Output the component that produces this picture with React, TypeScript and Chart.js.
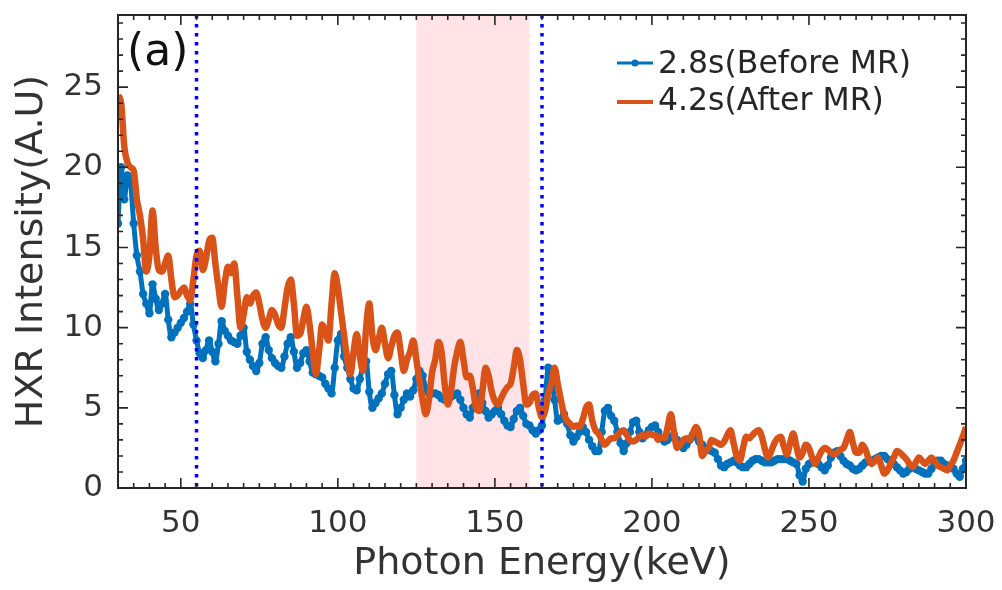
import React, { useEffect, useRef } from "react";
import { Chart, registerables } from "chart.js";

Chart.register(...registerables);

// ---------------- DATA ----------------
const energies = [
  30, 31, 32, 33, 34, 35, 36, 37, 38, 39,
  40, 41, 42, 43, 44, 45, 46, 47, 48, 49,
  50, 51, 52, 53, 54, 55, 56, 57, 58, 59,
  60, 61, 62, 63, 64, 65, 66, 67, 68, 69,
  70, 71, 72, 73, 74, 75, 76, 77, 78, 79,
  80, 81, 82, 83, 84, 85, 86, 87, 88, 89,
  90, 91, 92, 93, 94, 95, 96, 97, 98, 99,
  100, 101, 102, 103, 104, 105, 106, 107, 108, 109,
  110, 111, 112, 113, 114, 115, 116, 117, 118, 119,
  120, 121, 122, 123, 124, 125, 126, 127, 128, 129,
  130, 131, 132, 133, 134, 135, 136, 137, 138, 139,
  140, 141, 142, 143, 144, 145, 146, 147, 148, 149,
  150, 151, 152, 153, 154, 155, 156, 157, 158, 159,
  160, 161, 162, 163, 164, 165, 166, 167, 168, 169,
  170, 171, 172, 173, 174, 175, 176, 177, 178, 179,
  180, 181, 182, 183, 184, 185, 186, 187, 188, 189,
  190, 191, 192, 193, 194, 195, 196, 197, 198, 199,
  200, 201, 202, 203, 204, 205, 206, 207, 208, 209,
  210, 211, 212, 213, 214, 215, 216, 217, 218, 219,
  220, 221, 222, 223, 224, 225, 226, 227, 228, 229,
  230, 231, 232, 233, 234, 235, 236, 237, 238, 239,
  240, 241, 242, 243, 244, 245, 246, 247, 248, 249,
  250, 251, 252, 253, 254, 255, 256, 257, 258, 259,
  260, 261, 262, 263, 264, 265, 266, 267, 268, 269,
  270, 271, 272, 273, 274, 275, 276, 277, 278, 279,
  280, 281, 282, 283, 284, 285, 286, 287, 288, 289,
  290, 291, 292, 293, 294, 295, 296, 297, 298, 299,
  300,
];

// 2.8 s (Before MR)
const beforeMR = [
  16.5, 20.0, 18.0, 19.5, 19.0, 16.5, 14.5, 13.5, 12.1, 11.5,
  10.9, 12.7, 11.8, 11.1, 11.5, 12.1, 10.5, 9.4, 9.7, 10.0,
  10.3, 10.6, 11.0, 11.5, 10.2, 9.2, 8.4, 8.1, 8.6, 9.2,
  8.5, 7.9, 9.0, 10.4, 9.8, 9.5, 9.2, 9.1, 9.0, 9.5,
  10.0, 8.5, 8.0, 7.6, 7.3, 7.8, 9.0, 9.4, 8.6, 8.1,
  7.8, 7.6, 7.5, 8.2, 9.0, 9.4, 8.5, 7.5, 7.8, 8.4,
  8.6, 7.9, 7.2, 7.1, 7.0, 6.9, 6.5, 6.2, 5.9, 7.5,
  9.2, 9.6, 8.2, 7.5, 6.8, 6.2, 6.1, 6.8, 7.6, 7.9,
  6.0, 5.0, 5.3, 5.6, 5.9, 6.5, 7.1, 7.3, 5.8, 4.6,
  5.0, 5.5, 5.9, 5.7, 6.1, 6.8, 7.3, 7.0, 6.2, 5.9,
  5.9, 5.9, 5.8, 5.6, 5.5, 5.6, 5.7, 5.8, 5.9, 5.5,
  5.0, 4.6, 4.4, 5.0, 5.6, 5.9, 5.3, 4.8, 4.4, 4.6,
  4.8, 5.0, 4.6, 4.2, 3.9, 3.8, 4.3, 4.8, 5.0, 4.5,
  4.0, 3.9, 3.6, 3.4, 3.6, 3.9, 5.5, 7.5, 6.8, 5.5,
  4.2, 4.3, 4.6, 4.0, 3.3, 2.9, 3.2, 3.5, 3.8, 3.5,
  3.0, 2.6, 2.3, 2.3, 3.5, 4.8, 5.0, 4.5, 4.2, 3.5,
  2.8, 2.3, 2.8, 3.5, 4.1, 4.2, 3.5, 3.1, 3.3, 3.6,
  3.8, 3.9, 3.5, 3.1, 2.9, 3.0, 3.2, 3.3, 3.0, 2.7,
  2.5, 2.7, 3.0, 3.3, 3.2, 2.9, 2.7, 2.5, 2.4, 2.3,
  2.2, 1.8, 1.4, 1.3, 1.5, 1.6, 1.7, 1.6, 1.4, 1.3,
  1.3, 1.5, 1.7, 1.8, 1.8, 1.7, 1.6, 1.6, 1.6, 1.7,
  1.8, 1.8, 1.8, 1.8, 1.7, 1.6, 1.5, 0.8, 0.4, 1.2,
  1.5, 1.6, 1.7, 1.5, 1.3, 1.1, 1.4, 1.9, 2.2, 2.3,
  2.0, 1.7, 1.5, 1.4, 1.2, 1.1, 1.2, 1.4, 1.6, 1.7,
  1.7, 1.8, 1.9, 2.0, 2.0, 1.8, 1.6, 1.5, 1.3, 1.1,
  0.9, 1.0, 1.2, 1.3, 1.2, 1.1, 1.0, 0.9, 0.9, 1.2,
  1.5, 1.7, 1.7, 1.5, 1.4, 1.3, 1.2, 0.9, 0.7, 1.2,
  1.7,
];

// 4.2 s (After MR)
const afterMR = [
  24.5, 24.0, 21.3, 20.3, 20.0, 19.8, 18.0, 17.0, 15.5, 13.5,
  14.5, 17.3, 15.0, 13.6, 13.5, 14.0, 14.5, 13.0, 11.9, 12.0,
  12.3, 12.5, 12.0, 11.7, 13.0, 14.5, 14.8, 13.6, 14.3, 15.4,
  15.6, 14.0, 12.5, 11.3, 12.8, 13.8, 13.4, 14.0, 12.0, 10.0,
  10.8, 11.9, 11.5, 12.0, 12.2, 11.5, 10.5, 10.0, 10.5, 11.1,
  10.8, 10.2, 10.0, 11.2, 12.5, 13.0, 11.5, 9.5, 9.6, 10.5,
  11.3, 10.2, 8.5, 7.1, 8.5, 10.2, 9.8, 9.2, 11.5, 13.4,
  12.5, 11.0, 9.5, 8.0, 7.1, 8.5, 9.6, 8.2, 7.3, 10.0,
  11.5, 9.5, 8.6, 9.3, 10.0, 9.0, 8.1, 8.8, 9.5, 9.7,
  8.5, 7.3, 8.0, 8.5, 9.2, 8.0, 6.7, 5.5, 4.6, 5.5,
  7.2, 8.0, 9.1, 8.5, 6.5, 5.2, 6.0, 7.5, 8.5, 9.1,
  8.0, 6.9, 7.0, 6.2, 5.0, 4.8, 6.0, 7.5, 7.0, 6.0,
  5.4, 5.2, 5.6, 6.0, 6.3, 6.5, 7.5, 8.6, 8.0, 6.5,
  5.2, 5.3, 5.8, 5.9, 5.0, 4.4, 4.8, 5.9, 6.5, 7.5,
  6.5, 5.5, 4.6, 4.2, 4.0, 3.8, 3.9, 3.8, 4.3, 5.0,
  5.2, 4.2, 3.6, 3.4, 3.0, 2.7, 2.9, 3.1, 3.1, 3.3,
  3.5, 3.6, 3.3, 3.0, 2.9, 3.0, 3.2, 3.3, 3.2, 3.4,
  3.3, 3.3, 3.0, 3.2, 3.1, 3.8, 4.6, 3.5, 2.5, 2.7,
  3.0, 3.1, 3.0, 3.4, 3.8, 3.4, 2.0, 2.3, 2.5, 3.0,
  2.9, 2.8, 2.7, 2.9, 3.3, 3.6, 2.8, 2.0, 1.7, 2.5,
  3.2, 3.1, 3.3, 3.5, 3.6, 3.2, 2.4, 1.9, 2.3, 2.8,
  3.1, 3.2, 2.6, 2.1, 2.8, 3.4, 2.6, 1.9, 2.2, 2.7,
  2.5, 1.9, 1.5, 1.9, 2.3, 2.5, 2.4, 2.2, 2.1, 2.2,
  2.4, 2.5, 3.0, 3.5, 2.8, 2.2, 2.2, 2.7, 2.4, 1.8,
  1.5, 1.7, 1.9, 1.4, 0.9, 1.1, 1.5, 1.9, 2.3, 2.2,
  2.0, 1.8, 1.5, 1.3, 1.6, 1.9, 1.7, 1.5, 1.7, 1.9,
  1.7, 1.4, 1.3, 1.2, 1.1, 1.4, 1.7, 2.2, 2.7, 3.2,
  3.8,
];

const seriesLabels = ["2.8s(Before MR)", "4.2s(After MR)"];
const xTickValues = [50, 100, 150, 200, 250, 300];
const yTickValues = [0, 5, 10, 15, 20, 25];
const xRange = [30, 300];
const yRange = [0, 29.5];
const xMinorStep = 5;
const yMinorStep = 1;
const dottedLinesAt = [55, 165];
const shadedBand = [125, 161];
const panelLabel = "(a)";
const xTitle = "Photon Energy(keV)";
const yTitle = "HXR Intensity(A.U)";

// ---------------- STYLE ----------------
const BLUE = "#0072BD";
const ORANGE = "#D95319";
const TEXT = "#333333";
const FONT = "'DejaVu Sans', sans-serif";

const zeroPadding = (s: any) => {
  s.paddingTop = 0;
  s.paddingBottom = 0;
  s.paddingLeft = 0;
  s.paddingRight = 0;
};

const decorPlugin = {
  id: "decor",
  beforeDatasetsDraw(chart: any) {
    const { ctx, chartArea: a, scales } = chart;
    const x = scales.x;
    const x0 = x.getPixelForValue(shadedBand[0]);
    const x1 = x.getPixelForValue(shadedBand[1]);
    ctx.save();
    ctx.fillStyle = "rgba(255, 200, 208, 0.5)";
    ctx.fillRect(x0, a.top, x1 - x0, a.bottom - a.top);
    ctx.restore();
  },
  afterDatasetsDraw(chart: any) {
    const { ctx, chartArea: a, scales } = chart;
    const x = scales.x;
    const y = scales.y;

    // dotted vertical lines
    ctx.save();
    ctx.strokeStyle = "#0000FF";
    ctx.lineWidth = 3.5;
    ctx.setLineDash([3.5, 5.5]);
    for (const v of dottedLinesAt) {
      const px = x.getPixelForValue(v);
      ctx.beginPath();
      ctx.moveTo(px, a.top);
      ctx.lineTo(px, a.bottom);
      ctx.stroke();
    }
    ctx.restore();

    // frame + inward ticks
    ctx.save();
    ctx.strokeStyle = "#262626";
    ctx.lineWidth = 2;
    ctx.strokeRect(a.left, a.top, a.right - a.left, a.bottom - a.top);
    ctx.lineWidth = 1.6;
    const drawXTick = (v: number, len: number) => {
      const px = x.getPixelForValue(v);
      ctx.beginPath();
      ctx.moveTo(px, a.bottom);
      ctx.lineTo(px, a.bottom - len);
      ctx.moveTo(px, a.top);
      ctx.lineTo(px, a.top + len);
      ctx.stroke();
    };
    const drawYTick = (v: number, len: number) => {
      const py = y.getPixelForValue(v);
      ctx.beginPath();
      ctx.moveTo(a.left, py);
      ctx.lineTo(a.left + len, py);
      ctx.moveTo(a.right, py);
      ctx.lineTo(a.right - len, py);
      ctx.stroke();
    };
    for (let v = xRange[0]; v <= xRange[1]; v += xMinorStep) {
      drawXTick(v, xTickValues.includes(v) ? 10 : 5);
    }
    for (let v = yRange[0]; v <= yRange[1]; v += yMinorStep) {
      drawYTick(v, yTickValues.includes(v) ? 10 : 5);
    }
    ctx.restore();

    // panel label
    ctx.save();
    ctx.fillStyle = "#111";
    ctx.font = `44px ${FONT}`;
    ctx.textBaseline = "alphabetic";
    ctx.textAlign = "left";
    ctx.fillText(panelLabel, a.left + 9, a.top + 50);
    ctx.restore();

    // legend
    ctx.save();
    const lx0 = a.right - 349;
    const lx1 = a.right - 313;
    const tx = a.right - 308;
    ctx.font = `31.5px ${FONT}`;
    ctx.textBaseline = "alphabetic";
    ctx.textAlign = "left";
    const ly1 = a.top + 48;
    ctx.strokeStyle = BLUE;
    ctx.lineWidth = 3;
    ctx.beginPath();
    ctx.moveTo(lx0, ly1);
    ctx.lineTo(lx1, ly1);
    ctx.stroke();
    ctx.fillStyle = BLUE;
    ctx.beginPath();
    ctx.arc((lx0 + lx1) / 2, ly1, 3.5, 0, Math.PI * 2);
    ctx.fill();
    ctx.fillStyle = "#262626";
    ctx.fillText(seriesLabels[0], tx, a.top + 58);
    const ly2 = a.top + 87;
    ctx.strokeStyle = ORANGE;
    ctx.lineWidth = 4;
    ctx.beginPath();
    ctx.moveTo(lx0, ly2);
    ctx.lineTo(lx1, ly2);
    ctx.stroke();
    ctx.fillText(seriesLabels[1], tx, a.top + 95);
    ctx.restore();
  },
};

export default function App() {
  const canvasRef = useRef<HTMLCanvasElement | null>(null);

  useEffect(() => {
    const canvas = canvasRef.current;
    if (!canvas) return;
    const chart = new Chart(canvas, {
      type: "line",
      data: {
        datasets: [
          {
            label: seriesLabels[0],
            data: energies.map((e, i) => ({ x: e, y: beforeMR[i] })),
            borderColor: BLUE,
            backgroundColor: BLUE,
            borderWidth: 5,
            pointRadius: 4.2,
            pointBorderWidth: 0,
            pointBackgroundColor: BLUE,
            pointHoverRadius: 4.2,
            cubicInterpolationMode: "monotone",
            order: 1,
          },
          {
            label: seriesLabels[1],
            data: energies.map((e, i) => ({ x: e, y: afterMR[i] })),
            borderColor: ORANGE,
            backgroundColor: ORANGE,
            borderWidth: 6.5,
            pointRadius: 0,
            pointHoverRadius: 0,
            cubicInterpolationMode: "monotone",
            order: 0,
          },
        ],
      },
      options: {
        animation: false,
        responsive: true,
        maintainAspectRatio: false,
        events: [],
        layout: { padding: { top: 15, right: 36, left: 0, bottom: 0 } },
        plugins: {
          legend: { display: false },
          tooltip: { enabled: false },
        },
        scales: {
          x: {
            type: "linear",
            min: xRange[0],
            max: xRange[1],
            grid: { display: false, drawTicks: false },
            border: { display: false },
            afterBuildTicks: (s: any) => {
              s.ticks = xTickValues.map((v) => ({ value: v }));
            },
            afterFit: (s: any) => {
              s.height = 102;
              zeroPadding(s);
            },
            ticks: {
              font: { family: FONT, size: 31 },
              color: TEXT,
              padding: 17,
              maxRotation: 0,
              autoSkip: false,
            },
            title: {
              display: true,
              text: xTitle,
              font: { family: FONT, size: 38 },
              color: TEXT,
              padding: { top: 0, bottom: 3 },
            },
          },
          y: {
            type: "linear",
            min: yRange[0],
            max: yRange[1],
            grid: { display: false, drawTicks: false },
            border: { display: false },
            afterBuildTicks: (s: any) => {
              s.ticks = yTickValues.map((v) => ({ value: v }));
            },
            afterFit: (s: any) => {
              s.width = 118;
              zeroPadding(s);
            },
            ticks: {
              font: { family: FONT, size: 31 },
              color: TEXT,
              padding: 15,
              autoSkip: false,
            },
            title: {
              display: true,
              text: yTitle,
              font: { family: FONT, size: 38 },
              color: TEXT,
              padding: { top: 9, bottom: 0 },
            },
          },
        },
      },
      plugins: [decorPlugin],
    } as any);
    return () => chart.destroy();
  }, []);

  return (
    <div
      style={{
        position: "absolute",
        left: 0,
        top: 0,
        width: 1002,
        height: 590,
        background: "#fff",
      }}
    >
      <canvas ref={canvasRef} />
    </div>
  );
}
